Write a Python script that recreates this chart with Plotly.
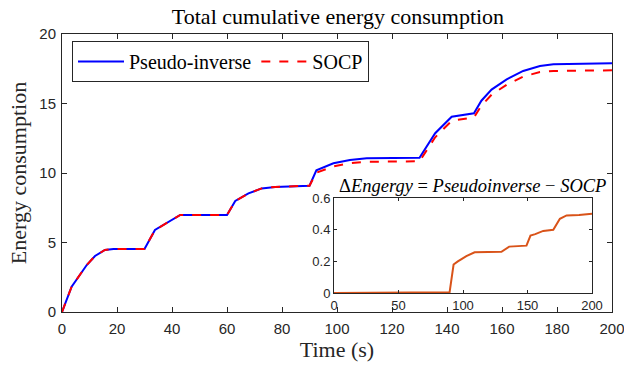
import plotly.graph_objects as go

# ---- data ----
time_s = [0, 3.5, 9, 12, 15.6, 18.7, 30, 33.8, 43, 60, 63, 67.8, 72.6, 77.5, 90,
          92.5, 98.7, 104.7, 110.8, 130, 135.7, 141.7, 149.8, 152.5, 156.2, 161.7,
          167.7, 173.8, 178.7, 185, 200]
pseudo_inverse = [0, 1.82, 3.38, 4.03, 4.46, 4.53, 4.53, 5.9, 6.98, 6.98, 7.99, 8.53,
                  8.89, 9.0, 9.09, 10.2, 10.7, 10.94, 11.06, 11.1, 12.86, 14.05, 14.3,
                  15.2, 16.0, 16.74, 17.34, 17.7, 17.82, 17.85, 17.89]
socp = [0, 1.82, 3.38, 4.03, 4.46, 4.53, 4.53, 5.9, 6.98, 6.98, 7.99, 8.53,
        8.89, 9.0, 9.09, 10.02, 10.48, 10.70, 10.805, 10.84, 12.57, 13.755, 14.0,
        14.84, 15.63, 16.35, 16.94, 17.26, 17.34, 17.36, 17.39]

inset_time = [0, 50, 85, 89.6, 92.7, 96, 102.6, 109, 129.8, 135.8, 149.2, 152.3,
              156, 162.2, 170, 175.1, 180.3, 190, 200]
delta_energy = [0, 0, 0.002, 0.004, 0.18, 0.2, 0.233, 0.257, 0.26, 0.293, 0.299,
                0.363, 0.372, 0.392, 0.399, 0.469, 0.49, 0.492, 0.50]

main_xticks = [0, 20, 40, 60, 80, 100, 120, 140, 160, 180, 200]
main_yticks = [0, 5, 10, 15, 20]
inset_xticks = [0, 50, 100, 150, 200]
inset_yticks = [0, 0.2, 0.4, 0.6]

AX = "#262626"
SANS = "Liberation Sans"
SERIF = "Liberation Serif"

# plot area in pixels: x 62..612, y 34..312
PL, PR, PT, PB = 62, 612, 34, 312
W, H = 624, 373


def px_x(p):
    return (p - PL) / (PR - PL)


def px_y(p):
    return (PB - p) / (PB - PT)


fig = go.Figure()
fig.add_trace(go.Scatter(x=time_s, y=pseudo_inverse, mode="lines", name="Pseudo-inverse",
                         line=dict(color="#0000FF", width=2)))
fig.add_trace(go.Scatter(x=time_s, y=socp, mode="lines", name="SOCP",
                         line=dict(color="#FF0000", width=2, dash="dash")))
fig.add_trace(go.Scatter(x=inset_time, y=delta_energy, mode="lines", showlegend=False,
                         line=dict(color="#D95319", width=2), xaxis="x2", yaxis="y2"))

axis_common = dict(showline=True, linecolor=AX, linewidth=1, mirror="ticks",
                   ticks="inside", tickcolor=AX, showgrid=False, zeroline=False,
                   automargin=False, ticklabeloverflow="allow")

ix0, ix1 = px_x(334), px_x(592)
iy0, iy1 = px_y(293), px_y(198)

fig.update_layout(
    width=W, height=H,
    margin=dict(l=PL, r=W - PR, t=PT, b=H - PB),
    paper_bgcolor="white", plot_bgcolor="white",
    title=dict(text="Total cumulative energy consumption", x=338 / W, xanchor="center",
               y=1 - 16 / H, yanchor="middle",
               font=dict(family=SERIF, size=22, color="black")),
    xaxis=dict(range=[0, 200], tickvals=main_xticks, ticklen=5, ticklabelstandoff=3,
               tickfont=dict(family=SANS, size=15, color=AX),
               title=dict(text="Time (s)", font=dict(family=SERIF, size=22, color=AX),
                          standoff=4),
               **axis_common),
    yaxis=dict(range=[0, 20], tickvals=main_yticks, ticklen=5, ticklabelstandoff=2,
               tickfont=dict(family=SANS, size=15, color=AX),
               title=dict(text="Energy consumption", font=dict(family=SERIF, size=22, color=AX),
                          standoff=6),
               **axis_common),
    xaxis2=dict(domain=[ix0, ix1], anchor="y2", range=[0, 200],
                tickvals=inset_xticks, ticklen=3,
                tickfont=dict(family=SANS, size=13, color=AX), **axis_common),
    yaxis2=dict(domain=[iy0, iy1], anchor="x2", range=[0, 0.6],
                tickvals=inset_yticks, ticklen=3,
                tickfont=dict(family=SANS, size=13, color=AX), **axis_common),
    legend=dict(orientation="h", x=px_x(72), y=px_y(41), xanchor="left", yanchor="top",
                bgcolor="white", bordercolor=AX, borderwidth=1,
                font=dict(family=SERIF, size=20, color="black"),
                tracegroupgap=0, itemwidth=46),
    shapes=[dict(type="rect", xref="paper", yref="paper", x0=ix0, x1=ix1,
                 y0=iy0, y1=iy1, fillcolor="white", line=dict(width=0), layer="below")],
    annotations=[dict(text="Δ<i>Engergy</i> = <i>Pseudoinverse</i> − <i>SOCP</i>",
                      xref="paper", yref="paper", x=px_x((337 + 608) / 2), y=px_y(186.5),
                      xanchor="center", yanchor="middle", showarrow=False,
                      font=dict(family=SERIF, size=18.5, color="black"))],
)

fig.write_html("out.html")
